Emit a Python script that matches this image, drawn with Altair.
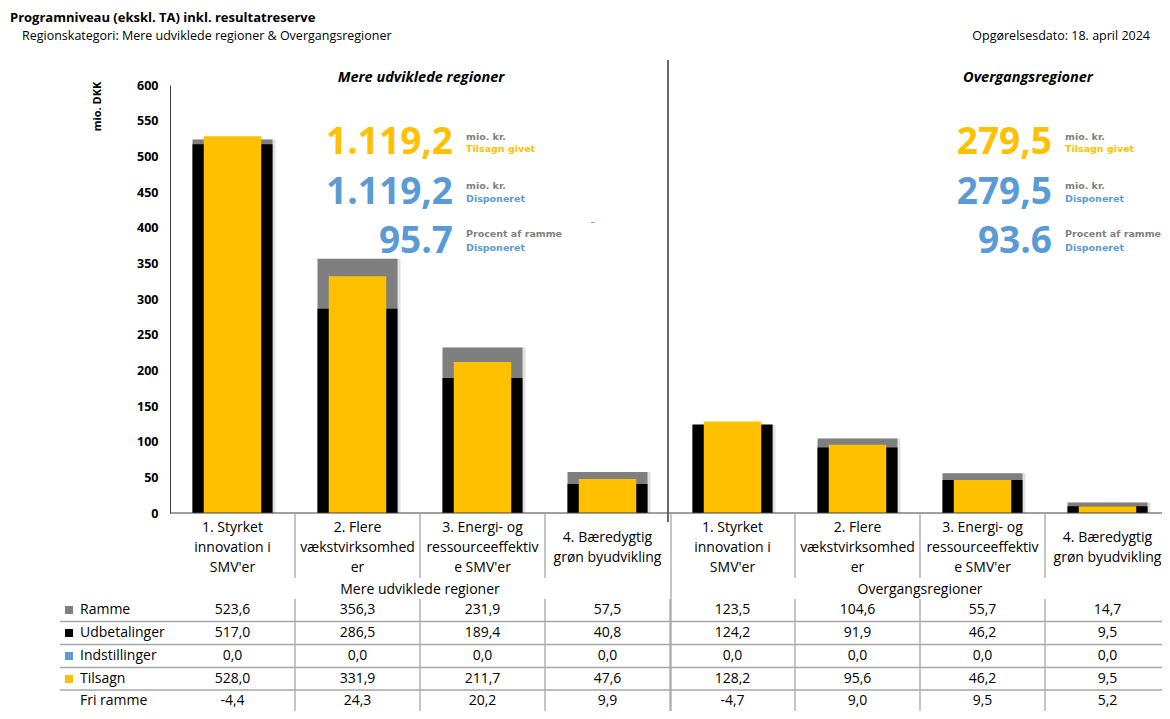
import altair as alt
import pandas as pd

# ---------------- data ----------------
regions = ["Mere udviklede regioner"] * 4 + ["Overgangsregioner"] * 4
categories = [
    "1. Styrket\ninnovation i\nSMV'er",
    "2. Flere\nvækstvirksomhed\ner",
    "3. Energi- og\nressourceeffektiv\ne SMV'er",
    "4. Bæredygtig\ngrøn byudvikling",
] * 2
ramme = [523.6, 356.3, 231.9, 57.5, 123.5, 104.6, 55.7, 14.7]
udbetalinger = [517.0, 286.5, 189.4, 40.8, 124.2, 91.9, 46.2, 9.5]
indstillinger = [0.0, 0.0, 0.0, 0.0, 0.0, 0.0, 0.0, 0.0]
tilsagn = [528.0, 331.9, 211.7, 47.6, 128.2, 95.6, 46.2, 9.5]
fri_ramme = [-4.4, 24.3, 20.2, 9.9, -4.7, 9.0, 9.5, 5.2]

region_titles = ["Mere udviklede regioner", "Overgangsregioner"]
kpi_tilsagn = ["1.119,2", "279,5"]
kpi_disponeret = ["1.119,2", "279,5"]
kpi_procent = ["95.7", "93.6"]

table_rows = ["Ramme", "Udbetalinger", "Indstillinger", "Tilsagn", "Fri ramme"]
table_values = [ramme, udbetalinger, indstillinger, tilsagn, fri_ramme]
y_ticks = [0, 50, 100, 150, 200, 250, 300, 350, 400, 450, 500, 550, 600]

title_text = "Programniveau (ekskl. TA) inkl. resultatreserve"
subtitle_text = "Regionskategori: Mere udviklede regioner & Overgangsregioner"
date_text = "Opgørelsesdato: 18. april 2024"

# ---------------- styling ----------------
FONT = "Open Sans"
SMALL = "DejaVu Sans"
GREY = "#7f7f7f"
BLACK = "#000000"
BLUE = "#5B9BD5"
YELLOW = "#FFC000"
LINE = "#a6a6a6"
row_colors = [GREY, BLACK, BLUE, YELLOW, None]

W, H = 992, 428      # drawn view (svg must fit the 1154px wide container)
XR = 1000            # x range: the last column runs to the window edge, as in the reference
LH = 20              # line height of category labels

keys = [("M" if r.startswith("Mere") else "O") + str(i % 4 + 1) for i, r in enumerate(regions)]
df = pd.DataFrame({
    "key": keys, "region": regions, "category": categories,
    "Ramme": ramme, "Udbetalinger": udbetalinger, "Tilsagn": tilsagn,
})
df["nlines"] = df["category"].str.count("\n") + 1

xscale = alt.Scale(domain=keys, paddingInner=0, paddingOuter=0, range=[0, XR])


def X(**kw):
    return alt.X("key:N", sort=keys, scale=xscale, axis=None, **kw)


yscale = alt.Scale(domain=[0, 600], nice=False)
yaxis = alt.Axis(
    values=y_ticks, grid=False, ticks=False, domain=True, domainColor="#404040",
    labelPadding=12, labelFont=FONT, labelFontSize=12.5, labelFontWeight="bold",
    labelColor="#000000", title="mio. DKK", titleFont=FONT, titleFontSize=11,
    titleFontWeight="bold", titleColor="#000000", titleAngle=270, titleX=-73,
    titleY=21, titleAlign="center", titleBaseline="middle",
)


def Y(field):
    return alt.Y(f"{field}:Q", scale=yscale, axis=yaxis)


base = alt.Chart(df)

shadow = base.mark_bar(color="#c8c8c8", opacity=0.55, width=alt.RelativeBandSize(0.64),
                       xOffset=3).encode(x=X(), y=Y("Ramme"))
bar_r = base.mark_bar(color=GREY, width=alt.RelativeBandSize(0.64)).encode(x=X(), y=Y("Ramme"))
bar_u = base.mark_bar(color=BLACK, width=alt.RelativeBandSize(0.64)).encode(x=X(), y=Y("Udbetalinger"))
bar_t = base.mark_bar(color=YELLOW, width=alt.RelativeBandSize(0.46)).encode(x=X(), y=Y("Tilsagn"))

baseline = alt.Chart(pd.DataFrame({"v": [0]})).mark_rule(color="#404040", strokeWidth=1).encode(
    y=alt.Y("v:Q", scale=yscale, axis=yaxis), x=alt.value(0), x2=alt.value(XR))

layers = [shadow, bar_r, bar_u, bar_t, baseline]

# category labels, vertically centred around the same line
CAT_CENTER = 463
for n in sorted(df["nlines"].unique()):
    sub = df[df["nlines"] == n]
    layers.append(alt.Chart(sub).mark_text(
        font=FONT, fontSize=14, lineBreak="\n", lineHeight=LH, align="center",
        baseline="middle", color="#000000", dy=-(n - 1) * LH / 2).encode(
        x=X(), y=alt.value(CAT_CENTER), text="category:N"))

grp = pd.DataFrame({"key": [keys[1], keys[5]], "t": region_titles})
layers.append(alt.Chart(grp).mark_text(font=FONT, fontSize=14, align="center",
                                       baseline="middle", color="#000000").encode(
    x=X(bandPosition=1), y=alt.value(505), text="t:N"))

# separators
inner_keys = [k for k in keys[1:] if k != "O1"]
layers.append(alt.Chart(pd.DataFrame({"key": inner_keys})).mark_rule(
    color=LINE, strokeWidth=1.3).encode(x=X(bandPosition=0), y=alt.value(H), y2=alt.value(493)))
layers.append(alt.Chart(pd.DataFrame({"key": keys[1:]})).mark_rule(
    color=LINE, strokeWidth=1.3).encode(x=X(bandPosition=0), y=alt.value(514), y2=alt.value(640)))
layers.append(alt.Chart(pd.DataFrame({"key": ["O1"]})).mark_rule(
    color=LINE, strokeWidth=1.3, xOffset=1).encode(
    x=X(bandPosition=0), y=alt.value(H), y2=alt.value(640)))
layers.append(alt.Chart(pd.DataFrame({"key": ["O1"]})).mark_rule(
    color="#595959", strokeWidth=1.8, xOffset=-2).encode(
    x=X(bandPosition=0), y=alt.value(-25), y2=alt.value(437)))


def txt(text, x, y, **props):
    p = dict(font=FONT, fontSize=12, align="left", baseline="middle", color="#000000")
    p.update(props)
    return alt.Chart(pd.DataFrame({"t": [text]})).mark_text(**p).encode(
        x=alt.value(x), y=alt.value(y), text="t:N")


# titles
layers.append(txt(title_text, -160, -67, fontWeight="bold", fontSize=13))
layers.append(txt(subtitle_text, -148, -49, fontSize=12.5))
layers.append(txt(date_text, 980, -49, fontSize=12.5, align="right"))

# section titles
layers.append(txt(region_titles[0], 251, -7, fontWeight="bold", fontStyle="italic",
                  fontSize=14.5, align="center"))
layers.append(txt(region_titles[1], 858, -7, fontWeight="bold", fontStyle="italic",
                  fontSize=14.5, align="center"))

# KPI blocks
small = dict(font=SMALL, fontSize=9.5, fontWeight="bold", baseline="alphabetic")
for i, (nx, lx) in enumerate([(283, 296), (882, 895)]):
    layers.append(txt(kpi_tilsagn[i], nx, 69, fontSize=37, fontWeight="bold", color=YELLOW,
                      align="right", baseline="alphabetic"))
    layers.append(txt(kpi_disponeret[i], nx, 119, fontSize=37, fontWeight="bold", color=BLUE,
                      align="right", baseline="alphabetic"))
    layers.append(txt(kpi_procent[i], nx, 168, fontSize=37, fontWeight="bold", color=BLUE,
                      align="right", baseline="alphabetic"))
    layers.append(txt("mio. kr.", lx, 55, color=GREY, **small))
    layers.append(txt("Tilsagn givet", lx, 67, color=YELLOW, **small))
    layers.append(txt("mio. kr.", lx, 104, color=GREY, **small))
    layers.append(txt("Disponeret", lx, 117, color=BLUE, **small))
    layers.append(txt("Procent af ramme", lx, 152, color=GREY, **small))
    layers.append(txt("Disponeret", lx, 166, color=BLUE, **small))
layers.append(txt("¨", 423, 142, fontSize=10, align="center"))

# data table
row_y = [525, 548, 571, 594, 616]
for name, vals, col, ry in zip(table_rows, table_values, row_colors, row_y):
    tdf = pd.DataFrame({"key": keys, "t": [f"{v:.1f}".replace(".", ",") for v in vals]})
    layers.append(alt.Chart(tdf).mark_text(font=FONT, fontSize=14, align="center",
                                           baseline="middle", color="#000000").encode(
        x=X(), y=alt.value(ry), text="t:N"))
    layers.append(txt(name, -90, ry, fontSize=14))
    if col:
        layers.append(alt.Chart(pd.DataFrame({"t": [name]})).mark_square(
            size=64, color=col, opacity=1).encode(x=alt.value(-101), y=alt.value(ry)))

for a, b in zip(row_y[:-1], row_y[1:]):
    yy = (a + b) / 2
    layers.append(alt.Chart(pd.DataFrame({"t": [0]})).mark_rule(color=LINE, strokeWidth=1.3).encode(
        x=alt.value(-110), x2=alt.value(XR), y=alt.value(yy)))

chart = alt.layer(*layers).properties(
    width=W, height=H,
    autosize=alt.AutoSizeParams(type="none"),
    padding={"left": 162, "top": 77, "right": 0, "bottom": 198},
).configure_view(stroke=None)

chart.save("out.html", embed_options={"renderer": "svg", "actions": False})
